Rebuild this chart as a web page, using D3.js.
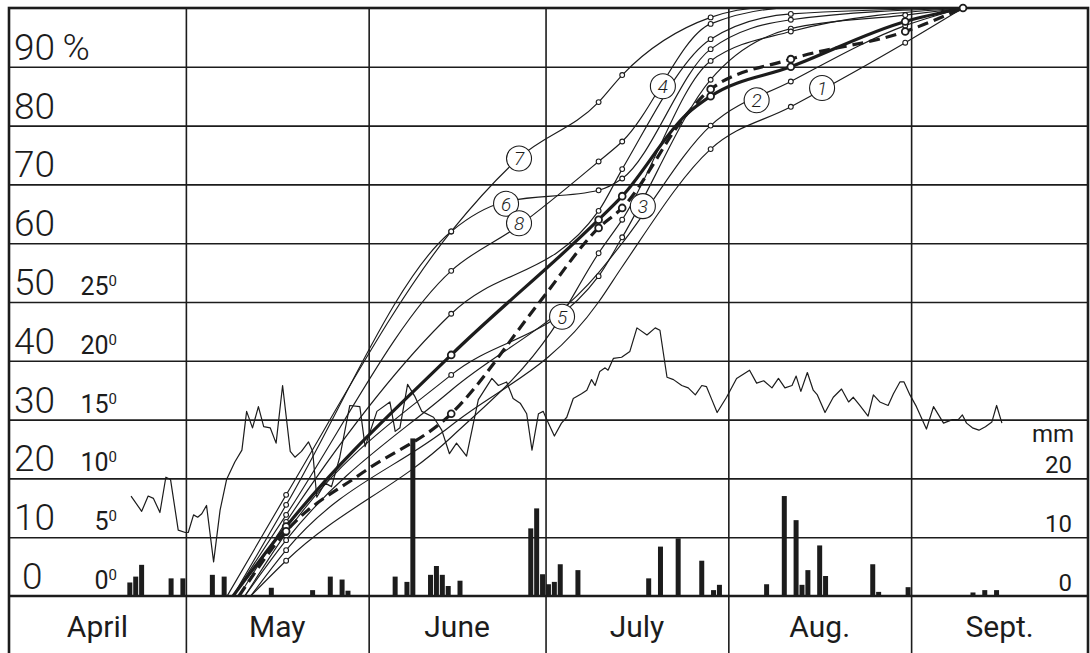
<!DOCTYPE html>
<html>
<head>
<meta charset="utf-8">
<script src="https://cdn.jsdelivr.net/npm/d3@7"></script>
<style>
  body { margin: 0; background: #fff; }
  svg { display: block; font-family: Roboto, "DejaVu Sans", sans-serif; }
</style>
</head>
<body>
<svg id="chart" width="1090" height="653"></svg>
<script>
// months (day 0 = 1 April)
const months = ["April", "May", "June", "July", "Aug.", "Sept."];
const monthStart = [0, 30, 61, 91, 122, 153, 183];
const pctTicks = [0, 10, 20, 30, 40, 50, 60, 70, 80, 90];
const tempTicks = [0, 5, 10, 15, 20, 25];
const rainTicks = [0, 10, 20];

// daily mean temperature [day, °C]
const temperature = [
  [20.7,8.5],[22.5,7.2],[23.6,8.5],[24.5,8.3],[25.6,7.1],[26.6,10.1],[27.4,9.9],[28.7,5.6],[29.9,5.4],[30.4,5.4],
  [31.3,6.9],[32.0,6.7],[32.7,7.0],[33.5,7.7],[34.7,2.9],[35.8,7.3],[36.9,9.9],[38.3,11.4],[39.5,12.4],[40.3,15.7],
  [41.3,14.3],[42.3,16.1],[43.2,14.4],[44.3,14.3],[45.3,13.0],[46.4,17.9],[47.7,12.3],[48.5,11.8],[49.6,12.3],[50.8,13.1],
  [51.5,12.3],[52.2,8.4],[53.6,9.6],[54.7,9.3],[56.1,11.8],[57.8,16.2],[59.5,16.1],[60.4,12.7],[62.4,15.7],[64.6,16.5],[65.5,14.0],
  [66.3,14.3],[67.6,18.0],[68.8,17.0],[70.0,15.7],[72.0,15.2],[73.4,14.1],[74.7,12.1],[75.9,13.0],[77.6,11.9],[79.6,16.7],
  [81.9,18.5],[83.0,17.9],[84.4,18.2],[85.5,16.8],[86.7,16.4],[87.8,15.5],[88.7,12.4],[89.8,15.5],[90.6,15.7],[91.2,15.0],
  [92.5,13.6],[93.7,14.7],[94.6,15.2],[95.7,16.8],[97.1,17.2],[98.0,17.5],[98.8,18.4],[99.4,17.9],[100.2,19.1],[101.1,19.4],
  [101.6,19.2],[102.5,20.2],[103.9,20.3],[105.3,20.8],[106.5,22.8],[108.2,22.2],[109.6,22.8],[110.4,22.6],[111.6,18.6],[112.7,18.4],
  [114.1,17.9],[115.2,17.7],[116.4,17.1],[117.5,17.9],[118.3,17.8],[119.2,16.7],[120.1,15.6],[121.7,16.9],[123.4,18.5],[125.6,19.2],
  [126.8,18.1],[128.0,18.3],[129.4,17.7],[130.5,18.5],[131.6,17.7],[132.8,17.9],[133.5,18.7],[134.3,17.4],[135.4,19.0],[136.4,17.5],
  [137.1,17.1],[138.4,15.6],[139.8,16.9],[141.2,17.6],[142.4,16.5],[143.2,16.9],[144.3,16.2],[145.7,15.3],[146.6,17.1],[147.7,16.5],
  [149.1,16.2],[150.0,17.2],[151.1,18.2],[151.8,18.2],[152.8,17.1],[153.9,16.1],[155.6,14.2],[156.8,16.1],[158.5,14.7],[160.0,15.0],
  [161.0,15.0],[161.7,15.4],[162.4,14.7],[163.4,14.3],[164.5,14.1],[165.6,14.4],[166.7,14.8],[167.5,16.2],[168.4,14.7]
];

// daily rainfall [day, mm]
const rain = [
  [20,2.3],[21,3.3],[22,5.3],[27,3.0],[29,3.0],[34,3.6],[36,3.3],[44,1.4],[51,1.0],[54,3.3],[56,2.8],[57,0.9],
  [65,3.3],[67,2.4],[68,26.8],[71,3.6],[72,5.1],[73,3.6],[74,1.7],[76,2.6],[88,11.5],[89,14.9],[90,3.7],[91,2.0],
  [92,2.4],[93,5.4],[96,4.4],[108,3.0],[110,8.4],[113,9.8],[117,6.0],[119,1.0],[120,1.9],[128,2.0],[131,17.0],
  [133,12.9],[134,1.9],[135,4.4],[137,8.6],[138,3.4],[146,5.4],[147,0.7],[152,1.5],[163,0.6],[165,1.0],[167,1.0]
];

// cumulative percentage curves [day, %, observed point?]
const curve1 = [[41,0],[47,7.8,1],[75,29],[100,50],[104,56],[119,76,1],[132.6,83.2,1],[152,94.1,1],[161.8,100]];
const curve2 = [[40,0],[47,9.5,1],[75,35],[100,55],[104,60],[119,80,1],[132.6,87.5,1],[152,97,1],[161.8,100]];
const curve3 = [[40,0],[47,10.7,1],[75,37.6,1],[100,54.4,1],[104,61,1],[119,87.8,1],[132.6,96.5,1],[152,98.8,1],[161.8,100]];
const curve4 = [[39,0],[47,12.6,1],[75,48,1],[100,65.5,1],[104,72.6,1],[119,94.7,1],[132.6,99,1],[161.8,100]];
const curve5 = [[41,0],[47,6,1],[75,27],[92,45],[100,58.3,1],[104,64,1],[119,91,1],[132.6,96,1],[161.8,100]];
const curve6 = [[38,0],[47,15.5,1],[75,62,1],[84,67],[100,69,1],[104,71,1],[119,93,1],[132.6,98,1],[161.8,100]];
const curve7 = [[37,0],[47,17.2,1],[75,62,1],[86.5,74.5],[100,84,1],[104,88.6,1],[119,98.4,1],[128,100],[161.8,100]];
const curve8 = [[38,0],[47,13.8,1],[75,55.3,1],[86.5,63],[100,73.9,1],[104,77.3,1],[119,97.3,1],[132.6,100],[161.8,100]];
const curveMean = [[38,0],[47,11.8,1],[75,41,1],[100,64,1],[104,68,1],[115,82],[119,85,1],[132.6,90,1],[152,97.7,1],[161.8,100]];
const curveDash = [[39,0],[47,11,1],[60,21],[75,31,1],[90,50],[100,62.6,1],[104,66,1],[115,82],[119,86.2,1],[132.6,91.3,1],[152,96,1],[161.8,100,1]];

const thinCurves = [curve1, curve2, curve3, curve4, curve5, curve6, curve7, curve8];
const curveLabels = ["1", "2", "3", "4", "5", "6", "7", "8"];
const labelAt = [[137.9,86.4],[126.8,84.3],[107.5,66.3],[110.9,86.7],[93.8,47.5],[84.3,66.7],[86.5,74.4],[86.5,63.4]];

const svg = d3.select("#chart");
const ink = "#1c1c1c";

const x = d3.scaleLinear().domain([0, 183]).range([9, 1088]);
const y = d3.scaleLinear().domain([0, 100]).range([596, 8]);      // percent, also mm
const yT = d3.scaleLinear().domain([0, 50]).range([596, 8]);      // °C

// horizontal grid
svg.append("g")
  .attr("transform", `translate(${x(0)},0)`)
  .call(d3.axisRight(y).tickValues(pctTicks.slice(1)).tickSize(x(183) - x(0)).tickFormat(""))
  .call(g => g.select(".domain").remove())
  .selectAll("line").attr("stroke", ink).attr("stroke-width", 1.6);

// vertical month lines (through the month row)
svg.append("g")
  .attr("transform", `translate(0,${y(100)})`)
  .call(d3.axisBottom(x).tickValues(monthStart.slice(1, -1)).tickSize(653 - y(100)).tickFormat(""))
  .call(g => g.select(".domain").remove())
  .selectAll("line").attr("stroke", ink).attr("stroke-width", 1.6);

// frame
svg.append("rect").attr("x", x(0)).attr("y", y(100)).attr("width", x(183) - x(0)).attr("height", 700)
  .attr("fill", "none").attr("stroke", ink).attr("stroke-width", 2.6);
svg.append("line").attr("x1", x(0)).attr("x2", x(183)).attr("y1", y(0)).attr("y2", y(0))
  .attr("stroke", ink).attr("stroke-width", 2.6);

// rain bars
svg.append("g").selectAll("rect").data(rain).join("rect")
  .attr("x", d => x(d[0]) + 0.4)
  .attr("width", x(1) - x(0) - 0.9)
  .attr("y", d => y(d[1]))
  .attr("height", d => y(0) - y(d[1]))
  .attr("fill", ink);

// temperature
svg.append("path").datum(temperature)
  .attr("d", d3.line().x(d => x(d[0])).y(d => yT(d[1])))
  .attr("fill", "none").attr("stroke", ink).attr("stroke-width", 1.2).attr("stroke-linejoin", "round");

const line = d3.line().x(d => x(d[0])).y(d => y(d[1])).curve(d3.curveMonotoneX);

// thin curves
const thin = svg.append("g");
thinCurves.forEach(c => {
  thin.append("path").datum(c).attr("d", line)
    .attr("fill", "none").attr("stroke", ink).attr("stroke-width", 1.15);
});

// mean curves
svg.append("path").datum(curveMean).attr("d", line)
  .attr("fill", "none").attr("stroke", ink).attr("stroke-width", 3.2);
svg.append("path").datum(curveDash).attr("d", line)
  .attr("fill", "none").attr("stroke", ink).attr("stroke-width", 3.2).attr("stroke-dasharray", "11,6");

// observed points
thinCurves.forEach(c => {
  thin.append("g").selectAll("circle").data(c.filter(d => d[2])).join("circle")
    .attr("cx", d => x(d[0])).attr("cy", d => y(d[1])).attr("r", 2.4)
    .attr("fill", "#fff").attr("stroke", ink).attr("stroke-width", 1.1);
});
[curveMean, curveDash].forEach(c => {
  svg.append("g").selectAll("circle").data(c.filter(d => d[2])).join("circle")
    .attr("cx", d => x(d[0])).attr("cy", d => y(d[1])).attr("r", 3.4)
    .attr("fill", "#fff").attr("stroke", ink).attr("stroke-width", 1.8);
});

// numbered circles
const lab = svg.append("g").selectAll("g").data(labelAt).join("g")
  .attr("transform", d => `translate(${x(d[0])},${y(d[1])})`);
lab.append("circle").attr("r", 12.5).attr("fill", "#fff").attr("stroke", ink).attr("stroke-width", 1.1);
lab.append("text").text((d, i) => curveLabels[i])
  .attr("text-anchor", "middle").attr("dy", "0.36em")
  .attr("font-size", 19).attr("font-style", "italic").attr("font-weight", 300).attr("fill", ink);

// left percent labels
svg.append("g").selectAll("text").data(pctTicks).join("text")
  .attr("x", d => d === 0 ? 22 : 14)
  .attr("y", d => y(d) - 7)
  .attr("font-size", 37).attr("font-weight", 300).attr("fill", ink)
  .text(d => d === 90 ? "90\u2009%" : d);

// temperature labels
const tl = svg.append("g").selectAll("text").data(tempTicks).join("text")
  .attr("x", 117).attr("y", d => yT(d) - 7)
  .attr("text-anchor", "end").attr("font-size", 25).attr("font-weight", 400).attr("fill", ink);
tl.append("tspan").text(d => d);
tl.append("tspan").text("0").attr("font-size", 15).attr("dy", -9);

// rain labels
svg.append("g").selectAll("text").data(rainTicks).join("text")
  .attr("x", 1072).attr("y", d => y(d) - 5)
  .attr("text-anchor", "end").attr("font-size", 24).attr("font-weight", 400).attr("fill", ink)
  .text(d => d);
svg.append("text").attr("x", 1074).attr("y", y(20) - 36)
  .attr("text-anchor", "end").attr("font-size", 24).attr("fill", ink).text("mm");

// month labels
svg.append("g").selectAll("text").data(months).join("text")
  .attr("x", (d, i) => (x(monthStart[i]) + x(monthStart[i + 1])) / 2)
  .attr("y", 637)
  .attr("text-anchor", "middle").attr("font-size", 30).attr("font-weight", 400).attr("fill", ink)
  .text(d => d);
</script>
</body>
</html>
